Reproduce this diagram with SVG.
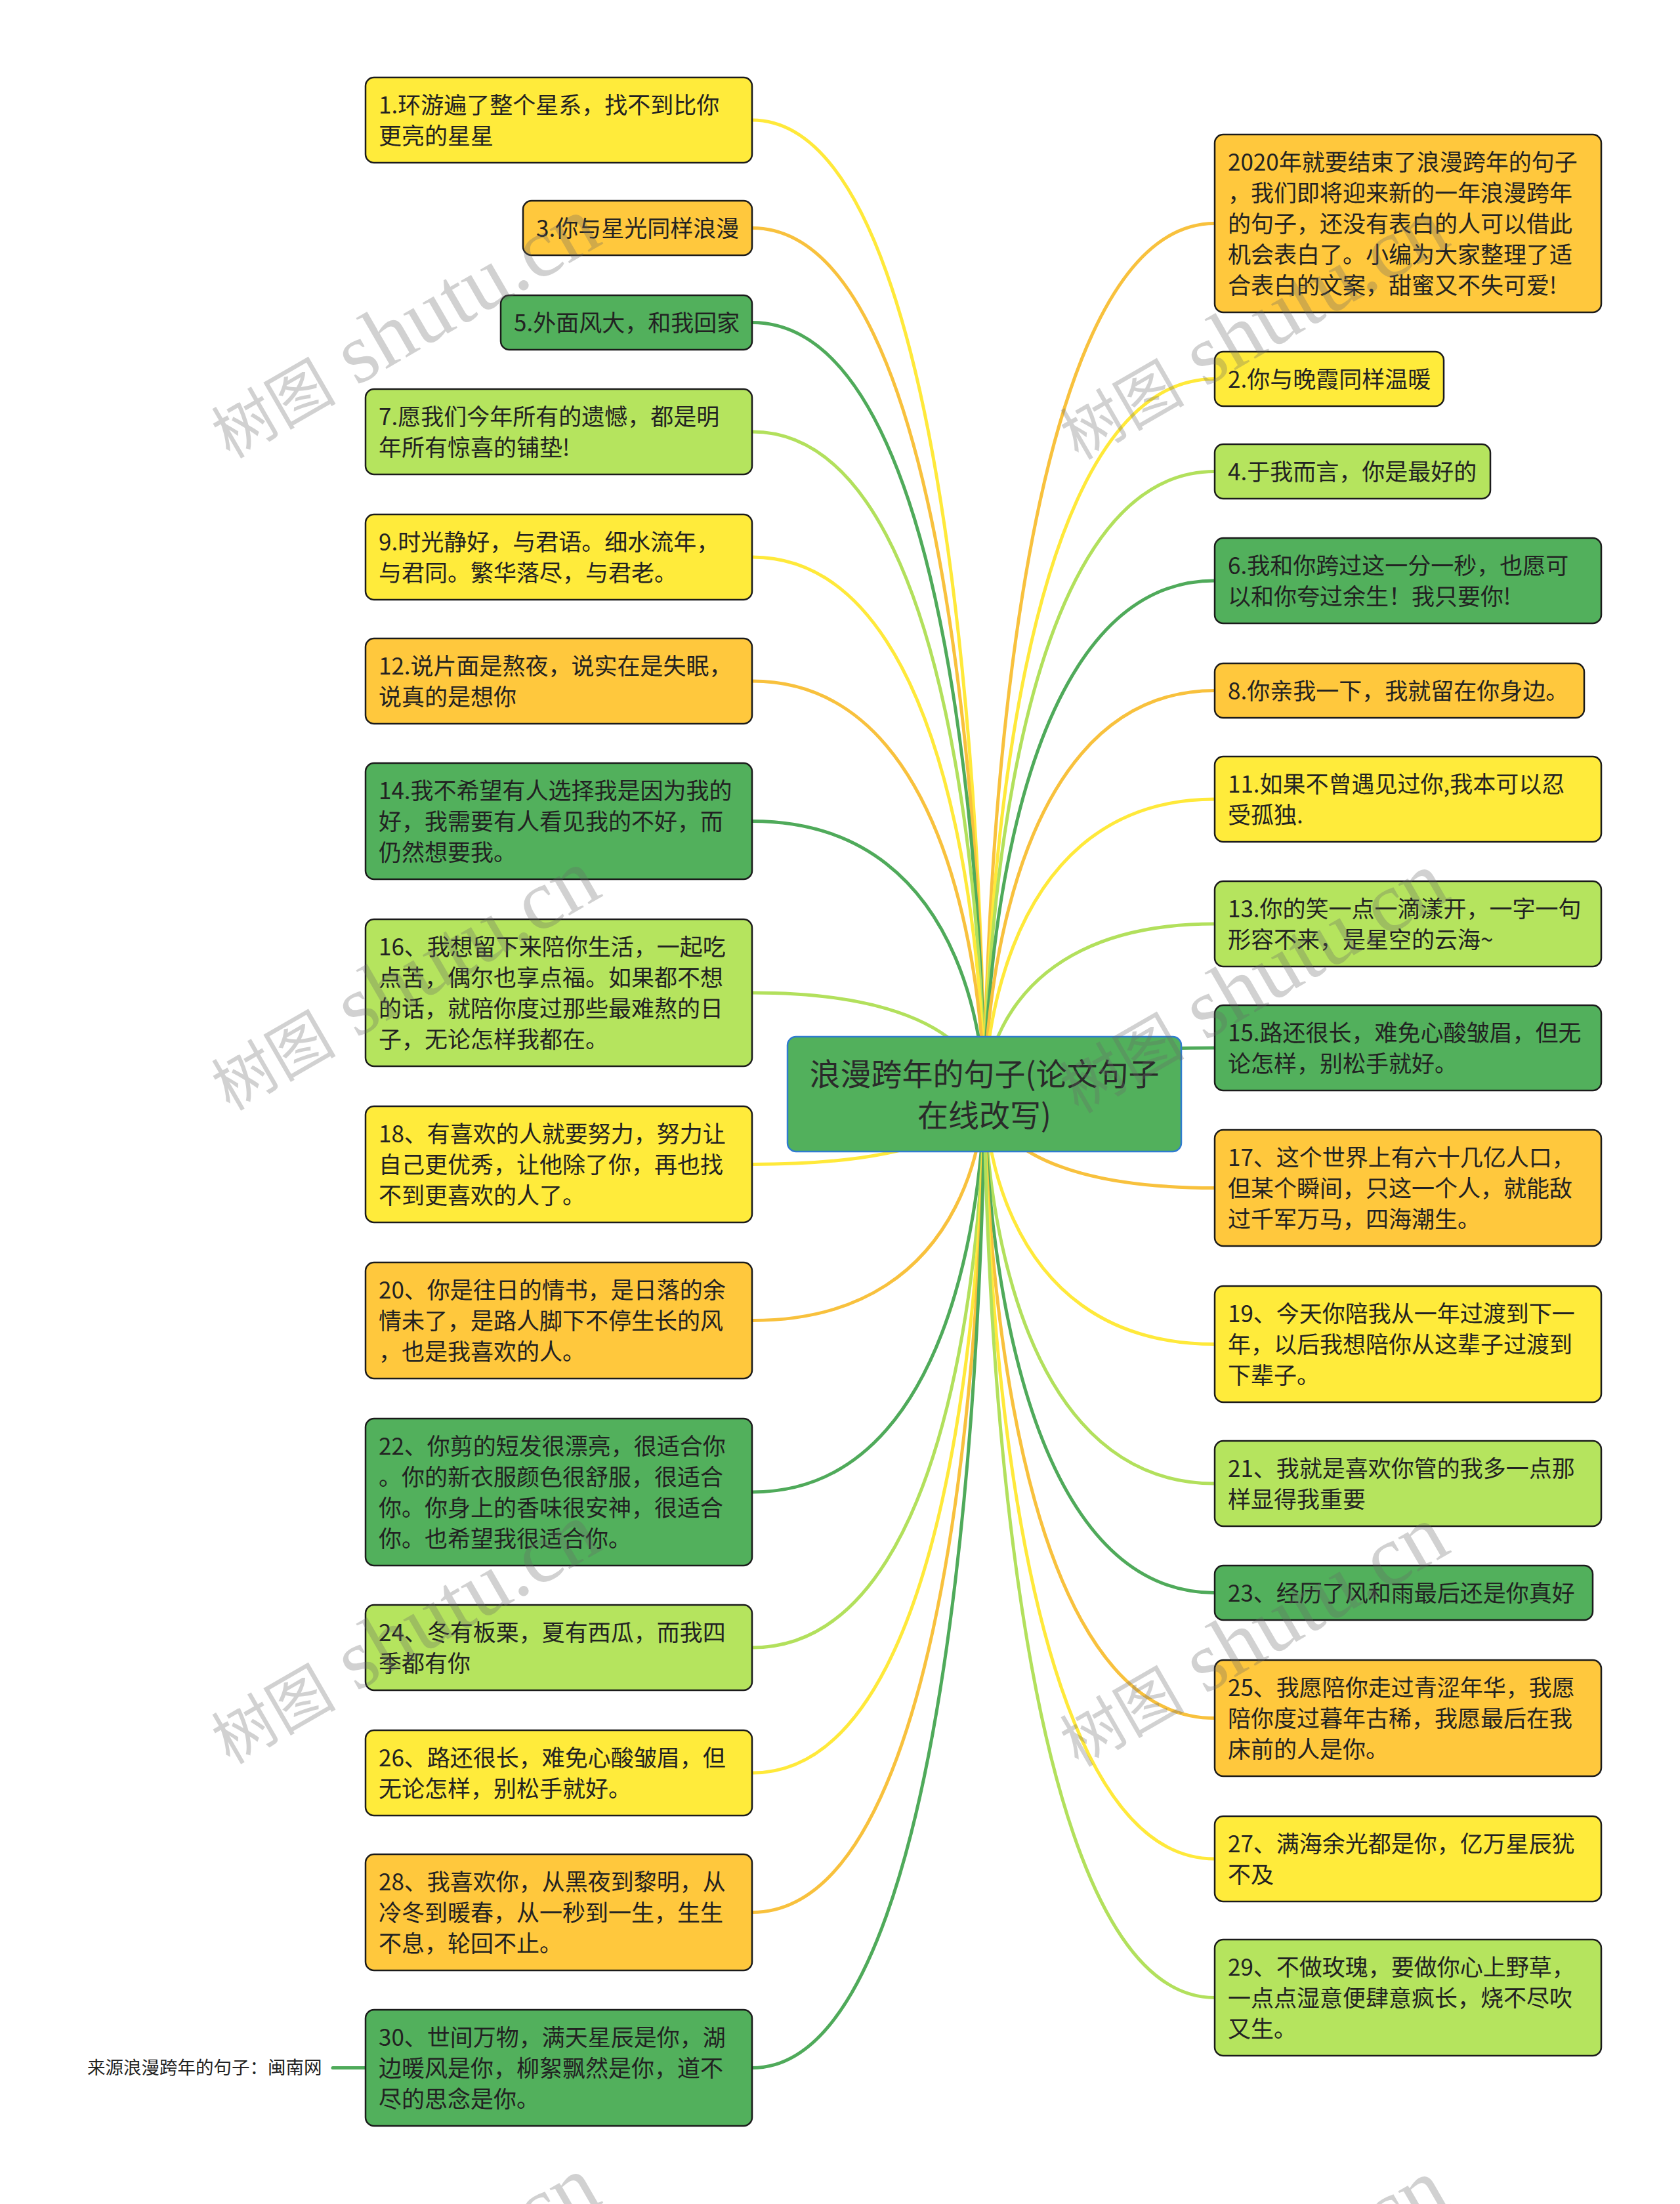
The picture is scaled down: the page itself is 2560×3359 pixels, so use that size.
<svg xmlns="http://www.w3.org/2000/svg" width="2560" height="3359" viewBox="0 0 2560 3359">
<style>
.bg{fill:#ffffff}
.nd{stroke:#1b1b1b;stroke-width:2.5}
.y{fill:#FFEB3B}.o{fill:#FFC83D}.g{fill:#52B05C}.lg{fill:#B5E45E}
.t{font-family:"Noto Sans CJK SC","Noto Sans",sans-serif;font-size:35px;fill:#222}
.ct{font-family:"Noto Sans CJK SC","Noto Sans",sans-serif;font-size:47px;fill:#2a2a2a;text-anchor:middle}
.src{font-family:"Noto Sans CJK SC","Noto Sans",sans-serif;font-size:27.5px;fill:#222}
.cn path{fill:none;stroke-width:5;stroke-linecap:round}
.cy{stroke:#FFE93A}.co{stroke:#F8C13D}.cg{stroke:#4FAA5A}.clg{stroke:#B2E05C}
.wm{fill:#666;fill-opacity:0.3}
.wc{font-family:"Noto Sans CJK SC",sans-serif;font-size:95px}
.wl{font-family:"Liberation Serif",serif;font-size:130px}
</style>
<rect class="bg" x="0" y="0" width="2560" height="3359"/>
<g id="connectors" class="cn">
<path class="cy" d="M1146,183 C1500,183 1500,1667 1500,1667"/>
<path class="co" d="M1146,347.5 C1500,347.5 1500,1667 1500,1667"/>
<path class="cg" d="M1146,491.5 C1500,491.5 1500,1667 1500,1667"/>
<path class="clg" d="M1146,658 C1500,658 1500,1667 1500,1667"/>
<path class="cy" d="M1146,849 C1500,849 1500,1667 1500,1667"/>
<path class="co" d="M1146,1038 C1500,1038 1500,1667 1500,1667"/>
<path class="cg" d="M1146,1251.5 C1500,1251.5 1500,1667 1500,1667"/>
<path class="clg" d="M1146,1513 C1500,1513 1500,1667 1500,1667"/>
<path class="cy" d="M1146,1774.5 C1500,1774.5 1500,1667 1500,1667"/>
<path class="co" d="M1146,2012.5 C1500,2012.5 1500,1667 1500,1667"/>
<path class="cg" d="M1146,2274 C1500,2274 1500,1667 1500,1667"/>
<path class="clg" d="M1146,2511 C1500,2511 1500,1667 1500,1667"/>
<path class="cy" d="M1146,2702 C1500,2702 1500,1667 1500,1667"/>
<path class="co" d="M1146,2914.5 C1500,2914.5 1500,1667 1500,1667"/>
<path class="cg" d="M1146,3151.5 C1500,3151.5 1500,1667 1500,1667"/>
<path class="co" d="M1851,340.5 C1500,340.5 1500,1667 1500,1667"/>
<path class="cy" d="M1851,577.5 C1500,577.5 1500,1667 1500,1667"/>
<path class="clg" d="M1851,718.5 C1500,718.5 1500,1667 1500,1667"/>
<path class="cg" d="M1851,885 C1500,885 1500,1667 1500,1667"/>
<path class="co" d="M1851,1052.5 C1500,1052.5 1500,1667 1500,1667"/>
<path class="cy" d="M1851,1218 C1500,1218 1500,1667 1500,1667"/>
<path class="clg" d="M1851,1408 C1500,1408 1500,1667 1500,1667"/>
<path class="cg" d="M1851,1597 C1500,1597 1500,1667 1500,1667"/>
<path class="co" d="M1851,1810.5 C1500,1810.5 1500,1667 1500,1667"/>
<path class="cy" d="M1851,2048.5 C1500,2048.5 1500,1667 1500,1667"/>
<path class="clg" d="M1851,2261 C1500,2261 1500,1667 1500,1667"/>
<path class="cg" d="M1851,2427.5 C1500,2427.5 1500,1667 1500,1667"/>
<path class="co" d="M1851,2618.5 C1500,2618.5 1500,1667 1500,1667"/>
<path class="cy" d="M1851,2833 C1500,2833 1500,1667 1500,1667"/>
<path class="clg" d="M1851,3044.5 C1500,3044.5 1500,1667 1500,1667"/>
<path class="cg" d="M507,3151.5 L557,3151.5"/>
</g>
<g id="center">
<rect x="1200" y="1580" width="600" height="175" rx="13" fill="#52B05C" stroke="#2F7BD0" stroke-width="2.5"/>
<text class="ct"><tspan x="1500" y="1654">浪漫跨年的句子(论文句子</tspan><tspan x="1500" y="1717">在线改写)</tspan></text>
</g>
<g id="n1"><rect class="nd y" x="557" y="118" width="589" height="130" rx="13"/><text class="t"><tspan x="577" y="172.5">1.环游遍了整个星系，找不到比你</tspan><tspan x="577" y="219.5">更亮的星星</tspan></text></g>
<g id="n3"><rect class="nd o" x="797" y="306" width="349" height="83" rx="13"/><text class="t"><tspan x="817" y="360.5">3.你与星光同样浪漫</tspan></text></g>
<g id="n5"><rect class="nd g" x="763" y="450" width="383" height="83" rx="13"/><text class="t"><tspan x="783" y="504.5">5.外面风大，和我回家</tspan></text></g>
<g id="n7"><rect class="nd lg" x="557" y="593" width="589" height="130" rx="13"/><text class="t"><tspan x="577" y="647.5">7.愿我们今年所有的遗憾，都是明</tspan><tspan x="577" y="694.5">年所有惊喜的铺垫!</tspan></text></g>
<g id="n9"><rect class="nd y" x="557" y="784" width="589" height="130" rx="13"/><text class="t"><tspan x="577" y="838.5">9.时光静好，与君语。细水流年，</tspan><tspan x="577" y="885.5">与君同。繁华落尽，与君老。</tspan></text></g>
<g id="n12"><rect class="nd o" x="557" y="973" width="589" height="130" rx="13"/><text class="t"><tspan x="577" y="1027.5">12.说片面是熬夜，说实在是失眠，</tspan><tspan x="577" y="1074.5">说真的是想你</tspan></text></g>
<g id="n14"><rect class="nd g" x="557" y="1163" width="589" height="177" rx="13"/><text class="t"><tspan x="577" y="1217.5">14.我不希望有人选择我是因为我的</tspan><tspan x="577" y="1264.5">好，我需要有人看见我的不好，而</tspan><tspan x="577" y="1311.5">仍然想要我。</tspan></text></g>
<g id="n16"><rect class="nd lg" x="557" y="1401" width="589" height="224" rx="13"/><text class="t"><tspan x="577" y="1455.5">16、我想留下来陪你生活，一起吃</tspan><tspan x="577" y="1502.5">点苦，偶尔也享点福。如果都不想</tspan><tspan x="577" y="1549.5">的话，就陪你度过那些最难熬的日</tspan><tspan x="577" y="1596.5">子，无论怎样我都在。</tspan></text></g>
<g id="n18"><rect class="nd y" x="557" y="1686" width="589" height="177" rx="13"/><text class="t"><tspan x="577" y="1740.5">18、有喜欢的人就要努力，努力让</tspan><tspan x="577" y="1787.5">自己更优秀，让他除了你，再也找</tspan><tspan x="577" y="1834.5">不到更喜欢的人了。</tspan></text></g>
<g id="n20"><rect class="nd o" x="557" y="1924" width="589" height="177" rx="13"/><text class="t"><tspan x="577" y="1978.5">20、你是往日的情书，是日落的余</tspan><tspan x="577" y="2025.5">情未了，是路人脚下不停生长的风</tspan><tspan x="577" y="2072.5">，也是我喜欢的人。</tspan></text></g>
<g id="n22"><rect class="nd g" x="557" y="2162" width="589" height="224" rx="13"/><text class="t"><tspan x="577" y="2216.5">22、你剪的短发很漂亮，很适合你</tspan><tspan x="577" y="2263.5">。你的新衣服颜色很舒服，很适合</tspan><tspan x="577" y="2310.5">你。你身上的香味很安神，很适合</tspan><tspan x="577" y="2357.5">你。也希望我很适合你。</tspan></text></g>
<g id="n24"><rect class="nd lg" x="557" y="2446" width="589" height="130" rx="13"/><text class="t"><tspan x="577" y="2500.5">24、冬有板栗，夏有西瓜，而我四</tspan><tspan x="577" y="2547.5">季都有你</tspan></text></g>
<g id="n26"><rect class="nd y" x="557" y="2637" width="589" height="130" rx="13"/><text class="t"><tspan x="577" y="2691.5">26、路还很长，难免心酸皱眉，但</tspan><tspan x="577" y="2738.5">无论怎样，别松手就好。</tspan></text></g>
<g id="n28"><rect class="nd o" x="557" y="2826" width="589" height="177" rx="13"/><text class="t"><tspan x="577" y="2880.5">28、我喜欢你，从黑夜到黎明，从</tspan><tspan x="577" y="2927.5">冷冬到暖春，从一秒到一生，生生</tspan><tspan x="577" y="2974.5">不息，轮回不止。</tspan></text></g>
<g id="n30"><rect class="nd g" x="557" y="3063" width="589" height="177" rx="13"/><text class="t"><tspan x="577" y="3117.5">30、世间万物，满天星辰是你，湖</tspan><tspan x="577" y="3164.5">边暖风是你，柳絮飘然是你，道不</tspan><tspan x="577" y="3211.5">尽的思念是你。</tspan></text></g>
<g id="source"><text class="src" x="133" y="3161">来源浪漫跨年的句子：闽南网</text></g>
<g id="n0"><rect class="nd o" x="1851" y="205" width="589" height="271" rx="13"/><text class="t"><tspan x="1871" y="259.5">2020年就要结束了浪漫跨年的句子</tspan><tspan x="1871" y="306.5">，我们即将迎来新的一年浪漫跨年</tspan><tspan x="1871" y="353.5">的句子，还没有表白的人可以借此</tspan><tspan x="1871" y="400.5">机会表白了。小编为大家整理了适</tspan><tspan x="1871" y="447.5">合表白的文案，甜蜜又不失可爱!</tspan></text></g>
<g id="n2"><rect class="nd y" x="1851" y="536" width="349" height="83" rx="13"/><text class="t"><tspan x="1871" y="590.5">2.你与晚霞同样温暖</tspan></text></g>
<g id="n4"><rect class="nd lg" x="1851" y="677" width="420" height="83" rx="13"/><text class="t"><tspan x="1871" y="731.5">4.于我而言，你是最好的</tspan></text></g>
<g id="n6"><rect class="nd g" x="1851" y="820" width="589" height="130" rx="13"/><text class="t"><tspan x="1871" y="874.5">6.我和你跨过这一分一秒，也愿可</tspan><tspan x="1871" y="921.5">以和你夸过余生！我只要你!</tspan></text></g>
<g id="n8"><rect class="nd o" x="1851" y="1011" width="563" height="83" rx="13"/><text class="t"><tspan x="1871" y="1065.5">8.你亲我一下，我就留在你身边。</tspan></text></g>
<g id="n11"><rect class="nd y" x="1851" y="1153" width="589" height="130" rx="13"/><text class="t"><tspan x="1871" y="1207.5">11.如果不曾遇见过你,我本可以忍</tspan><tspan x="1871" y="1254.5">受孤独.</tspan></text></g>
<g id="n13"><rect class="nd lg" x="1851" y="1343" width="589" height="130" rx="13"/><text class="t"><tspan x="1871" y="1397.5">13.你的笑一点一滴漾开，一字一句</tspan><tspan x="1871" y="1444.5">形容不来，是星空的云海~</tspan></text></g>
<g id="n15"><rect class="nd g" x="1851" y="1532" width="589" height="130" rx="13"/><text class="t"><tspan x="1871" y="1586.5">15.路还很长，难免心酸皱眉，但无</tspan><tspan x="1871" y="1633.5">论怎样，别松手就好。</tspan></text></g>
<g id="n17"><rect class="nd o" x="1851" y="1722" width="589" height="177" rx="13"/><text class="t"><tspan x="1871" y="1776.5">17、这个世界上有六十几亿人口，</tspan><tspan x="1871" y="1823.5">但某个瞬间，只这一个人，就能敌</tspan><tspan x="1871" y="1870.5">过千军万马，四海潮生。</tspan></text></g>
<g id="n19"><rect class="nd y" x="1851" y="1960" width="589" height="177" rx="13"/><text class="t"><tspan x="1871" y="2014.5">19、今天你陪我从一年过渡到下一</tspan><tspan x="1871" y="2061.5">年，以后我想陪你从这辈子过渡到</tspan><tspan x="1871" y="2108.5">下辈子。</tspan></text></g>
<g id="n21"><rect class="nd lg" x="1851" y="2196" width="589" height="130" rx="13"/><text class="t"><tspan x="1871" y="2250.5">21、我就是喜欢你管的我多一点那</tspan><tspan x="1871" y="2297.5">样显得我重要</tspan></text></g>
<g id="n23"><rect class="nd g" x="1851" y="2386" width="576" height="83" rx="13"/><text class="t"><tspan x="1871" y="2440.5">23、经历了风和雨最后还是你真好</tspan></text></g>
<g id="n25"><rect class="nd o" x="1851" y="2530" width="589" height="177" rx="13"/><text class="t"><tspan x="1871" y="2584.5">25、我愿陪你走过青涩年华，我愿</tspan><tspan x="1871" y="2631.5">陪你度过暮年古稀，我愿最后在我</tspan><tspan x="1871" y="2678.5">床前的人是你。</tspan></text></g>
<g id="n27"><rect class="nd y" x="1851" y="2768" width="589" height="130" rx="13"/><text class="t"><tspan x="1871" y="2822.5">27、满海余光都是你，亿万星辰犹</tspan><tspan x="1871" y="2869.5">不及</tspan></text></g>
<g id="n29"><rect class="nd lg" x="1851" y="2956" width="589" height="177" rx="13"/><text class="t"><tspan x="1871" y="3010.5">29、不做玫瑰，要做你心上野草，</tspan><tspan x="1871" y="3057.5">一点点湿意便肆意疯长，烧不尽吹</tspan><tspan x="1871" y="3104.5">又生。</tspan></text></g>
<g id="watermark" class="wm">
<text transform="translate(350,700) rotate(-30)"><tspan class="wc">树图</tspan><tspan class="wl"> shutu.cn</tspan></text>
<text transform="translate(1643,702) rotate(-30)"><tspan class="wc">树图</tspan><tspan class="wl"> shutu.cn</tspan></text>
<text transform="translate(350,1694) rotate(-30)"><tspan class="wc">树图</tspan><tspan class="wl"> shutu.cn</tspan></text>
<text transform="translate(1643,1698) rotate(-30)"><tspan class="wc">树图</tspan><tspan class="wl"> shutu.cn</tspan></text>
<text transform="translate(350,2690) rotate(-30)"><tspan class="wc">树图</tspan><tspan class="wl"> shutu.cn</tspan></text>
<text transform="translate(1643,2694) rotate(-30)"><tspan class="wc">树图</tspan><tspan class="wl"> shutu.cn</tspan></text>
<text transform="translate(350,3686) rotate(-30)"><tspan class="wc">树图</tspan><tspan class="wl"> shutu.cn</tspan></text>
<text transform="translate(1643,3690) rotate(-30)"><tspan class="wc">树图</tspan><tspan class="wl"> shutu.cn</tspan></text>
</g>
</svg>
